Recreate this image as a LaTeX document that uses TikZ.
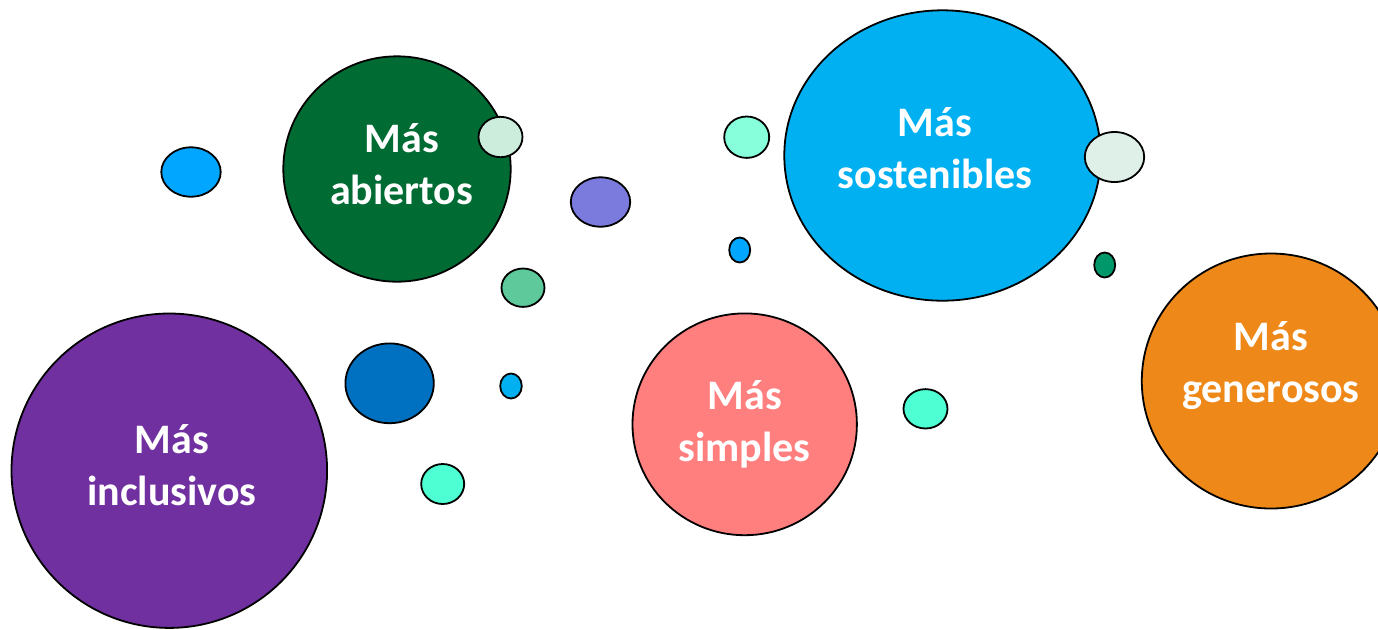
\documentclass[tikz,border=0pt]{standalone}
\usepackage{fontspec}
\setmainfont{Carlito}
\usetikzlibrary{shapes.geometric}
\definecolor{morado}{HTML}{7030A0}
\definecolor{verde}{HTML}{006B33}
\definecolor{celeste}{HTML}{00B0F0}
\definecolor{rosa}{HTML}{FF7F7F}
\definecolor{naranja}{HTML}{EE8818}
\definecolor{azulclaro}{HTML}{00A6FF}
\definecolor{menta}{HTML}{CCECDC}
\definecolor{mentaclara}{HTML}{DEF0E7}
\definecolor{lila}{HTML}{7B7BDE}
\definecolor{jade}{HTML}{5EC99B}
\definecolor{aguamarina}{HTML}{88FFDB}
\definecolor{turquesa}{HTML}{4DFFD2}
\definecolor{esmeralda}{HTML}{00976A}
\definecolor{azul}{HTML}{0070C0}
\begin{document}
\begin{tikzpicture}[x=0.5pt,y=-0.5pt,
	bubble/.style={ellipse,draw=black,line width=0.9pt,inner sep=0pt},
	bigtext/.style={text=white,align=center,font=\bfseries\fontsize{21}{26}\selectfont}]
	\useasboundingbox (0,0) rectangle (1378,629);
	\clip (0,0) rectangle (1378,629);
	% grandes
	\node[bubble,fill=morado,minimum width=157.8pt,minimum height=157.2pt] (inclusivos) at (169.3,470.7) {};
	\node[bubble,fill=verde,minimum width=113.7pt,minimum height=112.7pt] (abiertos) at (397,169) {};
	\node[bubble,fill=celeste,minimum width=158.2pt,minimum height=145.2pt] (sostenibles) at (942.5,155.5) {};
	\node[bubble,fill=rosa,minimum width=112.2pt,minimum height=110.9pt] (simples) at (744.7,424.3) {};
	\node[bubble,fill=naranja,minimum width=129.2pt,minimum height=127.5pt] (generosos) at (1271,381) {};
	\node[bigtext] at ([xshift=1.35pt,yshift=3pt]inclusivos.center) {Más\\inclusivos};
	\node[bigtext] at ([xshift=2.35pt,yshift=2.5pt]abiertos.center) {Más\\abiertos};
	\node[bigtext] at ([xshift=-3.75pt,yshift=3.5pt]sostenibles.center) {Más\\sostenibles};
	\node[bigtext] at (simples.center) {Más\\simples};
	\node[bigtext] at ([yshift=7.5pt]generosos.center) {Más\\generosos};
	% pequeñas
	\node[bubble,fill=azulclaro,minimum width=29.7pt,minimum height=24.7pt] (b1) at (191,172) {};
	\node[bubble,fill=menta,minimum width=22pt,minimum height=20.2pt] (b2) at (500.5,137) {};
	\node[bubble,fill=lila,minimum width=29.7pt,minimum height=24.7pt] (b3) at (600.5,202) {};
	\node[bubble,fill=jade,minimum width=21.5pt,minimum height=19.2pt] (b4) at (523,287.7) {};
	\node[bubble,fill=aguamarina,minimum width=22.5pt,minimum height=20.7pt] (b5) at (746.7,137.2) {};
	\node[bubble,fill=azulclaro,minimum width=10.5pt,minimum height=12.5pt] (b6) at (739.7,250) {};
	\node[bubble,fill=mentaclara,minimum width=29.7pt,minimum height=25pt] (b7) at (1114.5,157) {};
	\node[bubble,fill=esmeralda,minimum width=10.5pt,minimum height=12.5pt] (b8) at (1104.7,265) {};
	\node[bubble,fill=azul,minimum width=44.2pt,minimum height=39.9pt] (b9) at (389.6,383.3) {};
	\node[bubble,fill=celeste,minimum width=10.8pt,minimum height=12.5pt] (b10) at (511,386) {};
	\node[bubble,fill=turquesa,minimum width=21.5pt,minimum height=20pt] (b11) at (442.7,484) {};
	\node[bubble,fill=turquesa,minimum width=22pt,minimum height=19.7pt] (b12) at (925.5,408.8) {};
\end{tikzpicture}
\end{document}
